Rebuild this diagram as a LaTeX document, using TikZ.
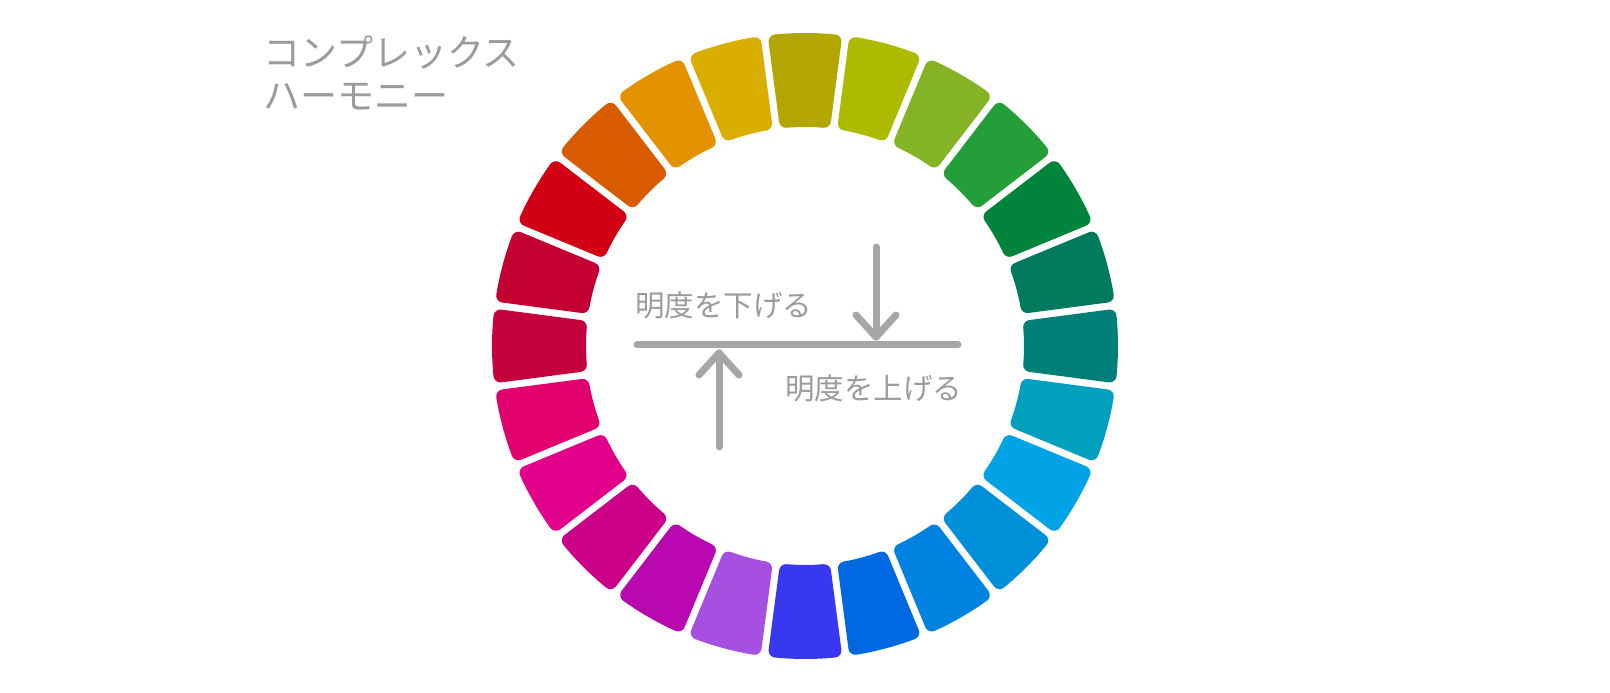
\documentclass[tikz,border=0pt]{standalone}
\usepackage{fontspec}
\newfontfamily\jp{Noto Sans CJK JP}
\usetikzlibrary{calc}
\definecolor{c0}{HTML}{B3A600}
\definecolor{c1}{HTML}{ADBB00}
\definecolor{c2}{HTML}{84B425}
\definecolor{c3}{HTML}{249E38}
\definecolor{c4}{HTML}{00843C}
\definecolor{c5}{HTML}{007A5C}
\definecolor{c6}{HTML}{007F78}
\definecolor{c7}{HTML}{00A0BE}
\definecolor{c8}{HTML}{00A3E6}
\definecolor{c9}{HTML}{0090DA}
\definecolor{c10}{HTML}{0082E0}
\definecolor{c11}{HTML}{0068E0}
\definecolor{c12}{HTML}{3838F0}
\definecolor{c13}{HTML}{A550E0}
\definecolor{c14}{HTML}{BA08B0}
\definecolor{c15}{HTML}{CC0088}
\definecolor{c16}{HTML}{E2008A}
\definecolor{c17}{HTML}{E2006E}
\definecolor{c18}{HTML}{C4003E}
\definecolor{c19}{HTML}{C40032}
\definecolor{c20}{HTML}{D20014}
\definecolor{c21}{HTML}{D95B00}
\definecolor{c22}{HTML}{E29200}
\definecolor{c23}{HTML}{D9AE00}
\definecolor{linegray}{HTML}{A6A6A6}
\definecolor{textgray}{HTML}{9B9B9B}
\tikzset{
  seg/.style={fill=#1, draw=#1, line width=14pt, line join=round},
  title/.style={font=\jp\fontsize{37}{37}\selectfont, text=textgray, anchor=west, inner sep=0pt},
  lab/.style={font=\jp\fontsize{29.5}{29.5}\selectfont, text=textgray, anchor=west, inner sep=0pt},
  gline/.style={draw=linegray, line width=7pt, line cap=round, line join=round}
}
\begin{document}
\begin{tikzpicture}[x=1pt,y=1pt]
\useasboundingbox[fill=white] (0,0) rectangle (1610,693);
\coordinate (C) at (805,347);
\def\Ro{306}
\def\Ri{226}
\def\ao{5.52}
\def\ai{4.82}
\foreach \i in {0,...,23}{
  \pgfmathsetmacro{\t}{90-15*\i}
  \path[seg=c\i] ($(C)+({\t+\ao}:\Ro)$) arc[start angle={\t+\ao}, end angle={\t-\ao}, radius=\Ro]
    -- ($(C)+({\t-\ai}:\Ri)$) arc[start angle={\t-\ai}, end angle={\t+\ai}, radius=\Ri] -- cycle;
}
\node[title] (t1) at (263,640) {コンプレックス};
\node[title] (t2) at (263,596) {ハーモニー};
\node[lab] (down) at (635,388) {明度を下げる};
\node[lab] (up) at (785,305) {明度を上げる};
\coordinate (la) at (637,348);
\coordinate (lb) at (958,348);
\draw[gline] (la) -- (lb);
\coordinate (dtop) at (876,446);
\coordinate (dtip) at (876,356);
\draw[gline] (dtop) -- (dtip);
\draw[gline] ($(dtip)+(-20,22)$) -- (dtip) -- ($(dtip)+(20,22)$);
\coordinate (ubot) at (719,246);
\coordinate (utip) at (719,340);
\draw[gline] (ubot) -- (utip);
\draw[gline] ($(utip)+(-20,-22)$) -- (utip) -- ($(utip)+(20,-22)$);
\end{tikzpicture}
\end{document}
